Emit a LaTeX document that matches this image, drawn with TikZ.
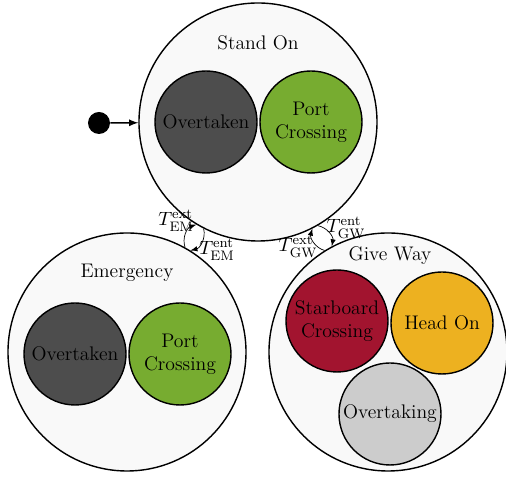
\documentclass[tikz,border=0pt]{standalone}
\usepackage{amsmath}
\usetikzlibrary{positioning}

\definecolor{darkgrey}{RGB}{77,77,77}
\definecolor{mgreen}{RGB}{119,172,48}
\definecolor{mred}{RGB}{162,20,47}
\definecolor{myellow}{RGB}{237,177,32}
\definecolor{lightgrey}{RGB}{204,204,204}
\definecolor{bggrey}{RGB}{249,249,249}

\begin{document}
\begin{tikzpicture}[
    font=\fontsize{11.2}{13}\selectfont,
    mode/.style={draw, circle, thick, fill=bggrey, minimum size=4.76cm},
    submode/.style={draw, circle, thick, minimum size=2.04cm, inner sep=0pt, align=center},
    trans/.style={-latex, bend left=45},
]
\useasboundingbox (0,0) rectangle (10.12,9.56);

% outer modes
\node[mode] (standon) at (5.16, 7.12) {};
\node[mode] (emerg) at (2.54, 2.52) {};
\node[mode] (giveway) at (7.76, 2.52) {};

\node (standonlbl) at (5.16, 8.70) {Stand On};
\node (emerglbl) at (2.54, 4.10) {Emergency};
\node (givewaylbl) at (7.80, 4.44) {Give Way};

% sub modes
\node[submode, fill=darkgrey] (so1) at (4.12, 7.12) {Overtaken};
\node[submode, fill=mgreen] (so2) at (6.22, 7.12) {Port\\Crossing};
\node[submode, fill=darkgrey] (em1) at (1.50, 2.48) {Overtaken};
\node[submode, fill=mgreen] (em2) at (3.60, 2.48) {Port\\Crossing};
\node[submode, fill=mred] (gw1) at (6.74, 3.14) {Starboard\\Crossing};
\node[submode, fill=myellow] (gw2) at (8.84, 3.10) {Head On};
\node[submode, fill=lightgrey] (gw3) at (7.80, 1.28) {Overtaking};

% initial state
\node[circle, fill=black, minimum size=0.44cm, inner sep=0pt] (init) at (1.98, 7.10) {};
\draw[-latex, thick] (init) -- (standon);

% transitions
\draw[trans] (emerg.61) to (standon.239);
\draw[trans] (standon.243) to (emerg.58);
\draw[trans] (giveway.122) to (standon.297);
\draw[trans] (standon.300) to (giveway.118);

\node (emext) at (3.52, 5.14) {$T_{\text{EM}}^{\text{ext}}$};
\node (ement) at (4.34, 4.56) {$T_{\text{EM}}^{\text{ent}}$};
\node (gwext) at (5.96, 4.62) {$T_{\text{GW}}^{\text{ext}}$};
\node (gwent) at (6.92, 5.00) {$T_{\text{GW}}^{\text{ent}}$};

\end{tikzpicture}
\end{document}
